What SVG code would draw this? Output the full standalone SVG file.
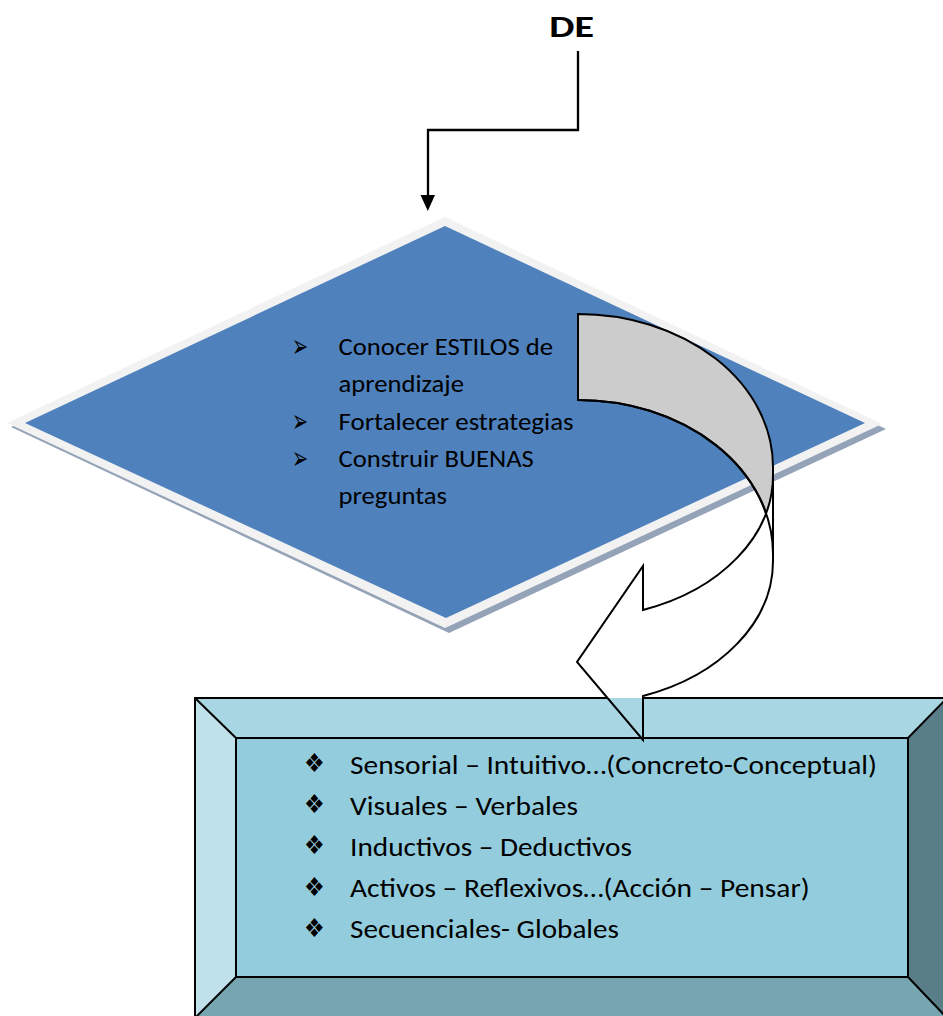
<svg xmlns="http://www.w3.org/2000/svg" width="943" height="1016" viewBox="0 0 943 1016">
<style>
.txt{font-family:Calibri,Carlito,Lato,"Open Sans",sans-serif;fill:#000}
.d{font-size:24.5px}
.b{font-size:26.5px}
.sym{font-family:"DejaVu Sans",sans-serif;fill:#000}
.ln{stroke:#000;stroke-width:2;fill:none}
.conn{stroke:#000;stroke-width:2.3;fill:none}
</style>
<defs>
<clipPath id="above"><rect x="0" y="0" width="943" height="698"/></clipPath>
</defs>
<rect width="943" height="1016" fill="#fff"/>

<g id="title">
<text class="txt" x="549.3" y="37.3" font-size="31" font-weight="bold" textLength="44.7" lengthAdjust="spacingAndGlyphs">DE</text>
</g>

<g id="connectors">
<path class="conn" d="M578,51 V130 H428 V198"/>
<polygon points="420.5,195 435,195 427.8,211" fill="#000"/>
</g>

<g id="diamond">
<polygon points="449,221 886,429 449,633 11,427" fill="#95a3b8"/>
<polygon points="445,217 882,424 445,628 7,423" fill="#f2f2f2"/>
<polygon points="445,226 865,423 446,618 25,423" fill="#4f81bd"/>
<g class="txt d">
<text class="sym" x="292" y="357" font-size="32" textLength="16" lengthAdjust="spacingAndGlyphs">➢</text>
<text x="338.6" y="355" textLength="214.4" lengthAdjust="spacingAndGlyphs">Conocer ESTILOS de</text>
<text x="338.6" y="392.3" textLength="125.3" lengthAdjust="spacingAndGlyphs">aprendizaje</text>
<text class="sym" x="292" y="431.6" font-size="32" textLength="16" lengthAdjust="spacingAndGlyphs">➢</text>
<text x="338.6" y="429.6" textLength="234.9" lengthAdjust="spacingAndGlyphs">Fortalecer estrategias</text>
<text class="sym" x="292" y="468.9" font-size="32" textLength="16" lengthAdjust="spacingAndGlyphs">➢</text>
<text x="338.6" y="466.9" textLength="195.2" lengthAdjust="spacingAndGlyphs">Construir BUENAS</text>
<text x="338.6" y="504.2" textLength="108.4" lengthAdjust="spacingAndGlyphs">preguntas</text>
</g>
</g>

<g id="box">
<polygon points="195,698 947,698 908,738 236,738" fill="#a9d6e3"/>
<polygon points="195,698 236,738 236,977 195,1018" fill="#bfe1ea"/>
<polygon points="947,698 947,1018 908,977 908,738" fill="#5a7e87"/>
<polygon points="236,977 908,977 947,1018 195,1018" fill="#77a6b0"/>
<rect x="236" y="738" width="672" height="239" fill="#93cddd"/>
<path class="ln" d="M195,698 L236,738 M947,698 L908,738 M236,977 L195,1018 M908,977 L947,1018 M195,697 V1018 M195,698 H607 M643,698 H947"/>
<rect class="ln" x="236" y="738" width="672" height="239"/>
<g class="txt b">
<text class="sym" x="304" y="772" font-size="26" textLength="20.7" lengthAdjust="spacingAndGlyphs">❖</text>
<text x="350" y="773.5" textLength="526.9" lengthAdjust="spacingAndGlyphs">Sensorial – Intuitivo…(Concreto-Conceptual)</text>
<text class="sym" x="304" y="813.2" font-size="26" textLength="20.7" lengthAdjust="spacingAndGlyphs">❖</text>
<text x="350" y="814.7" textLength="228" lengthAdjust="spacingAndGlyphs">Visuales – Verbales</text>
<text class="sym" x="304" y="854.4" font-size="26" textLength="20.7" lengthAdjust="spacingAndGlyphs">❖</text>
<text x="350" y="855.9" textLength="282" lengthAdjust="spacingAndGlyphs">Inductivos – Deductivos</text>
<text class="sym" x="304" y="895.6" font-size="26" textLength="20.7" lengthAdjust="spacingAndGlyphs">❖</text>
<text x="350" y="897.1" textLength="459.6" lengthAdjust="spacingAndGlyphs">Activos – Reflexivos…(Acción – Pensar)</text>
<text class="sym" x="304" y="936.8" font-size="26" textLength="20.7" lengthAdjust="spacingAndGlyphs">❖</text>
<text x="350" y="938.3" textLength="269" lengthAdjust="spacingAndGlyphs">Secuenciales- Globales</text>
</g>
</g>

<g id="curved-arrow">
<path d="M578,314 A195,153 0 0 1 773,467 L773,554 A195,154 0 0 0 578,400 Z" fill="#cccccc" stroke="#000" stroke-width="2"/>
<path d="M773,475 A195,143 0 0 1 643,610 L643,566 L577,662 L643,740 L643,696 A195,143 0 0 0 773,561 Z" fill="#fff" clip-path="url(#above)"/>
<path class="ln" d="M773,475 A195,143 0 0 1 643,610 L643,566 L577,662 L643,740 L643,696 A195,143 0 0 0 773,561 Z"/>
<path class="ln" d="M578,400 A195,154 0 0 1 773,554"/>
</g>
</svg>
